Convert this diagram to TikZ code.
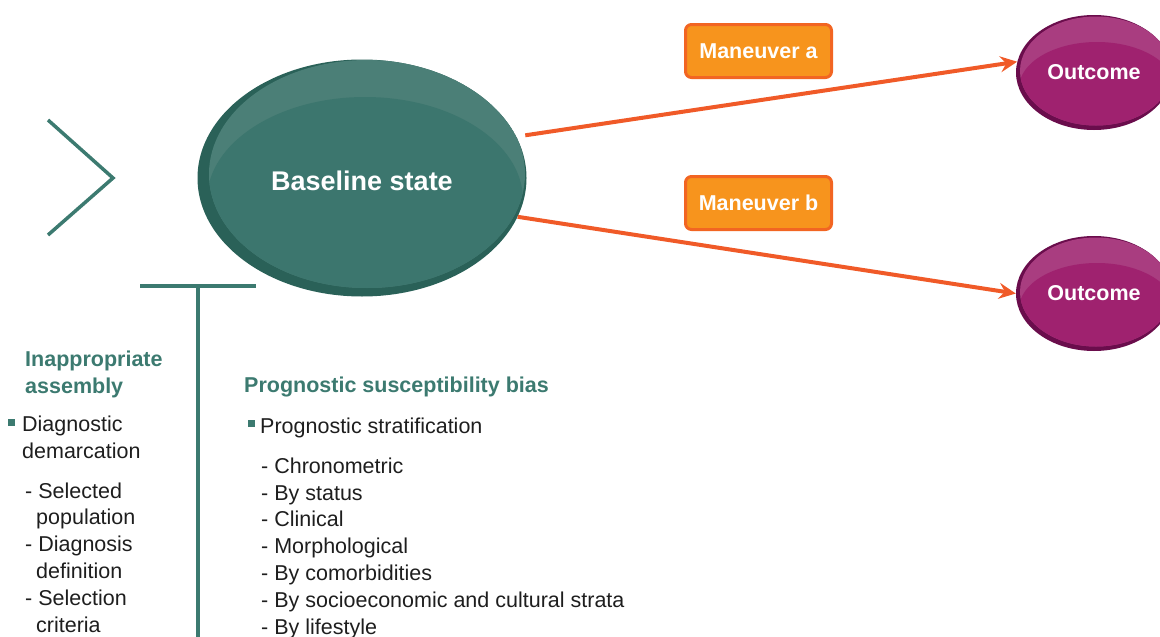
\documentclass[tikz,border=0pt]{standalone}
\usepackage{fontspec}
\setmainfont{Liberation Sans}
\usetikzlibrary{shapes.geometric, arrows.meta, positioning}

\definecolor{tealrim}{HTML}{2A6158}
\definecolor{tealbody}{HTML}{3C766E}
\definecolor{tealshine}{HTML}{4B7F77}
\definecolor{tealline}{HTML}{3C7A70}
\definecolor{plumrim}{HTML}{6A0D4C}
\definecolor{plumbody}{HTML}{9F226F}
\definecolor{plumshine}{HTML}{A93D80}
\definecolor{moveorange}{HTML}{F7941D}
\definecolor{moveedge}{HTML}{F26522}
\definecolor{arrowred}{HTML}{F05A28}
\definecolor{bodytext}{HTML}{1E1E1E}

\newcommand{\bodyfont}{\fontsize{21.5}{26.8}\selectfont}

\begin{document}
\begin{tikzpicture}[
            x=1pt, y=-1pt, % pixel-like grid, y grows downwards
            basestate/.style={ellipse, minimum width=329pt, minimum height=237pt, fill=tealrim,
                text=white, font=\bfseries\fontsize{27}{32}\selectfont, text height=26pt,
                path picture={
                    \fill[tealshine] ([xshift=5pt,yshift=4pt]path picture bounding box.center) ellipse [x radius=158pt, y radius=114pt];
                    \begin{scope}
                        \clip ([xshift=5pt,yshift=4pt]path picture bounding box.center) ellipse [x radius=158pt, y radius=114pt];
                        \fill[tealbody] ([xshift=3pt,yshift=-22pt]path picture bounding box.center) ellipse [x radius=158pt, y radius=103pt];
                    \end{scope}}},
            outcome/.style={ellipse, minimum width=156pt, minimum height=115pt, fill=plumrim,
                text=white, font=\bfseries\bodyfont,
                path picture={
                    \fill[plumshine] ([xshift=2pt,yshift=1.5pt]path picture bounding box.center) ellipse [x radius=76pt, y radius=54.5pt];
                    \begin{scope}
                        \clip ([xshift=2pt,yshift=1.5pt]path picture bounding box.center) ellipse [x radius=76pt, y radius=54.5pt];
                        \fill[plumbody] ([xshift=3pt,yshift=-15.5pt]path picture bounding box.center) ellipse [x radius=78pt, y radius=46pt];
                    \end{scope}}},
            movebox/.style={rectangle, rounded corners=6pt, fill=moveorange, draw=moveedge, line width=3pt,
                minimum width=146pt, minimum height=53pt, text=white, font=\bfseries\bodyfont},
            flow/.style={draw=arrowred, line width=4pt, -{Stealth[length=17pt, width=16pt, inset=6pt]}},
            rule/.style={draw=tealline, line width=3.5pt},
            heading/.style={text=tealline, font=\bfseries\bodyfont, align=left, inner sep=0pt, anchor=base west},
            listtext/.style={text=bodytext, font=\bodyfont, align=left, inner sep=0pt, anchor=base west},
            bullet/.style={rectangle, fill=tealline, minimum size=7pt, inner sep=0pt}
            ]

        \useasboundingbox (0,0) rectangle (1160,637);
        \clip (0,0) rectangle (1160,637);

        % chevron on the left and the T bar under the ellipse
        \draw[rule] (48,120) -- (113,178) -- (48,235);
        \draw[rule] (140,286) -- (256,286);
        \draw[rule] (198,286) -- (198,640);

        \node[basestate] (base) at (362,178) {Baseline state};

        \node[movebox] (mva) at (758.5,51) {Maneuver a};
        \node[movebox, below=96pt of mva] (mvb) {Maneuver b};

        \node[outcome] (outa) at (1094,72.5) {Outcome};
        \node[outcome] (outb) at (1094,293.5) {Outcome};

        \draw[flow, shorten <=9pt] (base.15) -- (outa.172);
        \draw[flow] (base.-14) -- (outb.west);

        % left column (multi-line nodes sit on the baseline of their last line)
        \node[heading] (assembly) at (25,393) {Inappropriate\\assembly};
        \node[bullet] (dotdiag) at (11.5,422.5) {};
        \node[listtext] (demarc) at (22,458) {Diagnostic\\demarcation};
        \node[listtext] (demarcsub) at (25,632) {- Selected\\\hspace*{11pt}population\\- Diagnosis\\\hspace*{11pt}definition\\- Selection\\\hspace*{11pt}criteria};

        % right column
        \node[heading] (suscept) at (244,392) {Prognostic susceptibility bias};
        \node[bullet] (dotstrat) at (251.5,423.5) {};
        \node[listtext] (strat) at (260,433) {Prognostic stratification};
        \node[listtext] (stratsub) at (261,634) {- Chronometric\\- By status\\- Clinical\\- Morphological\\- By comorbidities\\- By socioeconomic and cultural strata\\- By lifestyle};

\end{tikzpicture}
\end{document}
